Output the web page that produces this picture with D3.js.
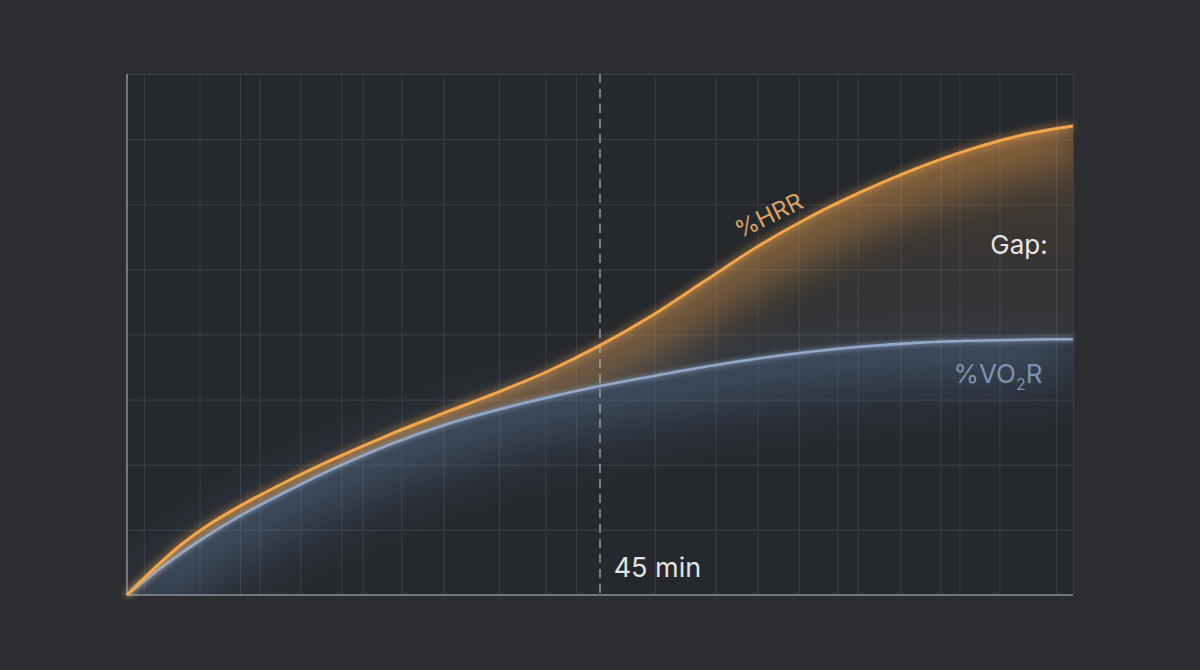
<!DOCTYPE html>
<html>
<head>
<meta charset="utf-8">
<script src="https://cdn.jsdelivr.net/npm/d3@7"></script>
<style>
  html, body { margin: 0; padding: 0; background: #2b2d31; }
  svg { display: block; }
  text { font-family: Inter, "Open Sans", sans-serif; }
</style>
</head>
<body>
<div id="chart"></div>
<script>
// time in minutes, intensity in percent
const minutes = [0, 2.5, 5, 7.5, 10, 15, 20, 25, 30, 35, 40, 45, 50, 55, 60, 65, 70, 75, 80, 85, 90]
const hrr     = [0, 4.9, 9.4, 13.1, 16.2, 21.6, 26.4, 30.8, 34.8, 38.7, 42.9, 47.9, 53.7, 60.3, 66.9, 72.6, 77.5, 81.8, 85.4, 88.2, 90.0]
const vo2r    = [0, 4.1, 7.8, 11.2, 14.3, 19.7, 24.6, 28.9, 32.5, 35.4, 37.9, 40.1, 42.0, 43.8, 45.4, 46.7, 47.7, 48.4, 48.8, 49.0, 49.1]

// grid lines (uneven in the original)
const gridMinutes = [1.6, 6.9, 10.75, 12.6, 16.5, 20.4, 22.4, 26.1, 30.1, 35.4, 39.8, 42.7,
                     50.2, 56.0, 60.0, 63.9, 67.6, 69.5, 73.6, 77.4, 79.2, 83.0, 88.4, 90]
const gridPercent = [12.5, 25, 37.5, 50, 62.5, 75, 87.5, 100]

const markerMinute = 45
const markerLabel = "45 min"

let margin = {top: 74, right: 127, bottom: 75, left: 127},
    width = 1200 - margin.left - margin.right,
    height = 670 - margin.top - margin.bottom;

let svgRoot = d3.select("#chart").append("svg")
    .attr("width", 1200)
    .attr("height", 670)

let defs = svgRoot.append("defs")

// glow for the lines
function glow(id, dev){
    let f = defs.append("filter").attr("id", id)
        .attr("x", "-20%").attr("y", "-20%").attr("width", "140%").attr("height", "140%")
    f.append("feGaussianBlur").attr("in", "SourceGraphic").attr("stdDeviation", dev).attr("result", "b")
    let m = f.append("feMerge")
    m.append("feMergeNode").attr("in", "b")
    m.append("feMergeNode").attr("in", "SourceGraphic")
}
glow("glowOrange", 4)
glow("glowBlue", 2.5)

function blur(id, dev){
    defs.append("filter").attr("id", id)
        .attr("x", "-30%").attr("y", "-30%").attr("width", "160%").attr("height", "160%")
        .append("feGaussianBlur").attr("stdDeviation", dev)
}
blur("softBlur", 20)
blur("wideBlur", 30)

let svg = svgRoot.append("g")
    .attr("transform", "translate(" + margin.left + "," + margin.top + ")")

var xScale = d3.scaleLinear().domain([0, 90]).range([0, width])
var yScale = d3.scaleLinear().domain([0, 100]).range([height, 0])

let data = minutes.map((m, i) => ({t: m, h: hrr[i], v: vo2r[i]}))
let curve = d3.curveMonotoneX

// plot background
svg.append("rect")
    .attr("width", width).attr("height", height)
    .attr("fill", "#25282d")

// grid
svg.append("g")
    .attr("transform", "translate(0," + height + ")")
    .call(d3.axisBottom(xScale).tickValues(gridMinutes).tickSize(-height).tickFormat(""))
    .call(g => g.select(".domain").remove())
    .selectAll("line").attr("stroke", "#3b3f46").attr("stroke-width", 1)

svg.append("g")
    .call(d3.axisLeft(yScale).tickValues(gridPercent).tickSize(-width).tickFormat(""))
    .call(g => g.select(".domain").remove())
    .selectAll("line").attr("stroke", "#3b3f46").attr("stroke-width", 1)

// areas used for fills and clipping
let between = d3.area()
    .x(d => xScale(d.t))
    .y0(d => yScale(d.v))
    .y1(d => yScale(d.h))
    .curve(curve)

let under = d3.area()
    .x(d => xScale(d.t))
    .y0(height)
    .y1(d => yScale(d.v))
    .curve(curve)

defs.append("clipPath").attr("id", "clipBetween").append("path").attr("d", between(data))
defs.append("clipPath").attr("id", "clipUnder").append("path").attr("d", under(data))
defs.append("clipPath").attr("id", "clipPlot").append("rect").attr("width", width).attr("height", height)

let makeLine = key => d3.line()
    .x(d => xScale(d.t))
    .y(d => yScale(d[key]))
    .curve(curve)

// faint veil between the curves, orange near the top fading to grey
let gOrange = defs.append("linearGradient").attr("id", "gradOrange")
    .attr("gradientUnits", "userSpaceOnUse")
    .attr("x1", 0).attr("y1", yScale(90)).attr("x2", 0).attr("y2", yScale(45))
gOrange.append("stop").attr("offset", "0%").attr("stop-color", "#d98d40").attr("stop-opacity", 0.2)
gOrange.append("stop").attr("offset", "100%").attr("stop-color", "#7a7672").attr("stop-opacity", 0.1)

svg.append("path")
    .attr("d", between(data))
    .attr("fill", "url(#gradOrange)")

// soft orange glow hugging the HRR line
svg.append("g").attr("clip-path", "url(#clipBetween)")
    .append("path")
    .attr("d", makeLine("h")(data))
    .attr("fill", "none")
    .attr("stroke", "#f0a048")
    .attr("stroke-opacity", 0.36)
    .attr("stroke-width", 80)
    .attr("filter", "url(#softBlur)")

// blue haze around and under the VO2R line
let haze = svg.append("g").attr("clip-path", "url(#clipPlot)")
haze.append("path")
    .attr("d", makeLine("v")(data))
    .attr("fill", "none")
    .attr("stroke", "#6a8ab8")
    .attr("stroke-opacity", 0.12)
    .attr("stroke-width", 40)
    .attr("filter", "url(#softBlur)")

svg.append("g").attr("clip-path", "url(#clipUnder)")
    .append("path")
    .attr("d", makeLine("v")(data))
    .attr("fill", "none")
    .attr("stroke", "#6a8ab8")
    .attr("stroke-opacity", 0.3)
    .attr("stroke-width", 90)
    .attr("filter", "url(#wideBlur)")

// 45 min marker
svg.append("line")
    .attr("x1", xScale(markerMinute)).attr("x2", xScale(markerMinute))
    .attr("y1", 0).attr("y2", height)
    .attr("stroke", "#a9adb3")
    .attr("stroke-width", 1.3)
    .attr("stroke-dasharray", "9,6")

// axes
svg.append("line")
    .attr("x1", 0).attr("x2", 0).attr("y1", 0).attr("y2", height)
    .attr("stroke", "#8d9198").attr("stroke-width", 1.5)
svg.append("line")
    .attr("x1", 0).attr("x2", width).attr("y1", height).attr("y2", height)
    .attr("stroke", "#8d9198").attr("stroke-width", 1.5)

// lines
svg.append("path")
    .attr("d", makeLine("v")(data))
    .attr("fill", "none")
    .attr("stroke", "#93a8c8")
    .attr("stroke-width", 2.6)
    .attr("filter", "url(#glowBlue)")

svg.append("path")
    .attr("d", makeLine("h")(data))
    .attr("fill", "none")
    .attr("stroke", "#f2a64c")
    .attr("stroke-width", 3)
    .attr("filter", "url(#glowOrange)")

// labels
svg.append("text")
    .attr("transform", "translate(" + xScale(61.4) + "," + yScale(71.4) + ") rotate(-26)")
    .attr("text-anchor", "middle")
    .attr("fill", "#dda262")
    .attr("font-size", 24)
    .text("%HRR")

svg.append("text")
    .attr("x", xScale(87.6)).attr("y", yScale(65.4))
    .attr("text-anchor", "end")
    .attr("fill", "#e6e6e6")
    .attr("font-size", 26)
    .text("Gap:")

let vt = svg.append("text")
    .attr("x", xScale(87.1)).attr("y", yScale(40.7))
    .attr("text-anchor", "end")
    .attr("fill", "#7d92b2")
    .attr("font-size", 26)
vt.append("tspan").text("%VO")
vt.append("tspan").attr("font-size", 16).attr("dy", 7).text("2")
vt.append("tspan").attr("dy", -7).text("R")

svg.append("text")
    .attr("x", xScale(46.3)).attr("y", yScale(3.5))
    .attr("fill", "#e2e2e2")
    .attr("font-size", 27)
    .text(markerLabel)
</script>
</body>
</html>
